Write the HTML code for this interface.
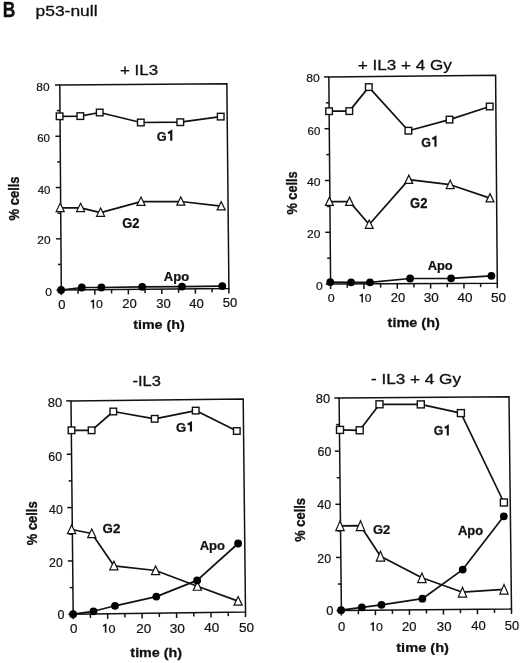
<!DOCTYPE html>
<html><head><meta charset="utf-8"><style>
html,body{margin:0;padding:0;background:#fff;}
svg{display:block;will-change:transform;}
text{font-family:"Liberation Sans",sans-serif;fill:#111;stroke:#111;stroke-linejoin:round;}
</style></head><body>
<svg width="520" height="663" viewBox="0 0 520 663">
<rect width="520" height="663" fill="#fff"/>
<g stroke="#111" fill="none" stroke-linecap="butt">
<polygon points="59.80,85.00 226.85,83.70 228.90,288.40 61.30,290.10" fill="none" stroke-width="1.5"/>
<line x1="56.50" y1="290.10" x2="61.30" y2="290.10" stroke-width="1.5"/>
<line x1="57.91" y1="264.46" x2="61.11" y2="264.46" stroke-width="1.5"/>
<line x1="56.12" y1="238.83" x2="60.92" y2="238.83" stroke-width="1.5"/>
<line x1="57.54" y1="213.19" x2="60.74" y2="213.19" stroke-width="1.5"/>
<line x1="55.75" y1="187.55" x2="60.55" y2="187.55" stroke-width="1.5"/>
<line x1="57.16" y1="161.91" x2="60.36" y2="161.91" stroke-width="1.5"/>
<line x1="55.38" y1="136.28" x2="60.17" y2="136.28" stroke-width="1.5"/>
<line x1="56.79" y1="110.64" x2="59.99" y2="110.64" stroke-width="1.5"/>
<line x1="55.00" y1="85.00" x2="59.80" y2="85.00" stroke-width="1.5"/>
<line x1="61.30" y1="290.10" x2="61.30" y2="295.10" stroke-width="1.5"/>
<line x1="78.06" y1="289.93" x2="78.06" y2="293.73" stroke-width="1.5"/>
<line x1="94.82" y1="289.76" x2="94.82" y2="294.76" stroke-width="1.5"/>
<line x1="111.58" y1="289.59" x2="111.58" y2="293.39" stroke-width="1.5"/>
<line x1="128.34" y1="289.42" x2="128.34" y2="294.42" stroke-width="1.5"/>
<line x1="145.10" y1="289.25" x2="145.10" y2="293.05" stroke-width="1.5"/>
<line x1="161.86" y1="289.08" x2="161.86" y2="294.08" stroke-width="1.5"/>
<line x1="178.62" y1="288.91" x2="178.62" y2="292.71" stroke-width="1.5"/>
<line x1="195.38" y1="288.74" x2="195.38" y2="293.74" stroke-width="1.5"/>
<line x1="212.14" y1="288.57" x2="212.14" y2="292.37" stroke-width="1.5"/>
<line x1="228.90" y1="288.40" x2="228.90" y2="293.40" stroke-width="1.5"/>
<polygon points="328.85,76.90 495.60,75.30 497.30,283.20 330.60,284.10" fill="none" stroke-width="1.5"/>
<line x1="325.80" y1="284.10" x2="330.60" y2="284.10" stroke-width="1.5"/>
<line x1="327.18" y1="258.20" x2="330.38" y2="258.20" stroke-width="1.5"/>
<line x1="325.36" y1="232.30" x2="330.16" y2="232.30" stroke-width="1.5"/>
<line x1="326.74" y1="206.40" x2="329.94" y2="206.40" stroke-width="1.5"/>
<line x1="324.93" y1="180.50" x2="329.73" y2="180.50" stroke-width="1.5"/>
<line x1="326.31" y1="154.60" x2="329.51" y2="154.60" stroke-width="1.5"/>
<line x1="324.49" y1="128.70" x2="329.29" y2="128.70" stroke-width="1.5"/>
<line x1="325.87" y1="102.80" x2="329.07" y2="102.80" stroke-width="1.5"/>
<line x1="324.05" y1="76.90" x2="328.85" y2="76.90" stroke-width="1.5"/>
<line x1="330.60" y1="284.10" x2="330.60" y2="289.10" stroke-width="1.5"/>
<line x1="347.27" y1="284.01" x2="347.27" y2="287.81" stroke-width="1.5"/>
<line x1="363.94" y1="283.92" x2="363.94" y2="288.92" stroke-width="1.5"/>
<line x1="380.61" y1="283.83" x2="380.61" y2="287.63" stroke-width="1.5"/>
<line x1="397.28" y1="283.74" x2="397.28" y2="288.74" stroke-width="1.5"/>
<line x1="413.95" y1="283.65" x2="413.95" y2="287.45" stroke-width="1.5"/>
<line x1="430.62" y1="283.56" x2="430.62" y2="288.56" stroke-width="1.5"/>
<line x1="447.29" y1="283.47" x2="447.29" y2="287.27" stroke-width="1.5"/>
<line x1="463.96" y1="283.38" x2="463.96" y2="288.38" stroke-width="1.5"/>
<line x1="480.63" y1="283.29" x2="480.63" y2="287.09" stroke-width="1.5"/>
<line x1="497.30" y1="283.20" x2="497.30" y2="288.20" stroke-width="1.5"/>
<polygon points="71.00,400.90 243.20,399.10 245.50,612.10 73.20,614.30" fill="none" stroke-width="1.5"/>
<line x1="68.40" y1="614.30" x2="73.20" y2="614.30" stroke-width="1.5"/>
<line x1="69.72" y1="587.62" x2="72.92" y2="587.62" stroke-width="1.5"/>
<line x1="67.85" y1="560.95" x2="72.65" y2="560.95" stroke-width="1.5"/>
<line x1="69.17" y1="534.27" x2="72.38" y2="534.27" stroke-width="1.5"/>
<line x1="67.30" y1="507.60" x2="72.10" y2="507.60" stroke-width="1.5"/>
<line x1="68.62" y1="480.92" x2="71.83" y2="480.92" stroke-width="1.5"/>
<line x1="66.75" y1="454.25" x2="71.55" y2="454.25" stroke-width="1.5"/>
<line x1="68.08" y1="427.57" x2="71.28" y2="427.57" stroke-width="1.5"/>
<line x1="66.20" y1="400.90" x2="71.00" y2="400.90" stroke-width="1.5"/>
<line x1="73.20" y1="614.30" x2="73.20" y2="619.30" stroke-width="1.5"/>
<line x1="90.43" y1="614.08" x2="90.43" y2="617.88" stroke-width="1.5"/>
<line x1="107.66" y1="613.86" x2="107.66" y2="618.86" stroke-width="1.5"/>
<line x1="124.89" y1="613.64" x2="124.89" y2="617.44" stroke-width="1.5"/>
<line x1="142.12" y1="613.42" x2="142.12" y2="618.42" stroke-width="1.5"/>
<line x1="159.35" y1="613.20" x2="159.35" y2="617.00" stroke-width="1.5"/>
<line x1="176.58" y1="612.98" x2="176.58" y2="617.98" stroke-width="1.5"/>
<line x1="193.81" y1="612.76" x2="193.81" y2="616.56" stroke-width="1.5"/>
<line x1="211.04" y1="612.54" x2="211.04" y2="617.54" stroke-width="1.5"/>
<line x1="228.27" y1="612.32" x2="228.27" y2="616.12" stroke-width="1.5"/>
<line x1="245.50" y1="612.10" x2="245.50" y2="617.10" stroke-width="1.5"/>
<polygon points="339.10,398.00 509.00,396.70 511.50,608.90 341.40,610.60" fill="none" stroke-width="1.5"/>
<line x1="336.60" y1="610.60" x2="341.40" y2="610.60" stroke-width="1.5"/>
<line x1="337.91" y1="584.02" x2="341.11" y2="584.02" stroke-width="1.5"/>
<line x1="336.02" y1="557.45" x2="340.82" y2="557.45" stroke-width="1.5"/>
<line x1="337.34" y1="530.88" x2="340.54" y2="530.88" stroke-width="1.5"/>
<line x1="335.45" y1="504.30" x2="340.25" y2="504.30" stroke-width="1.5"/>
<line x1="336.76" y1="477.73" x2="339.96" y2="477.73" stroke-width="1.5"/>
<line x1="334.88" y1="451.15" x2="339.68" y2="451.15" stroke-width="1.5"/>
<line x1="336.19" y1="424.57" x2="339.39" y2="424.57" stroke-width="1.5"/>
<line x1="334.30" y1="398.00" x2="339.10" y2="398.00" stroke-width="1.5"/>
<line x1="341.40" y1="610.60" x2="341.40" y2="615.60" stroke-width="1.5"/>
<line x1="358.41" y1="610.43" x2="358.41" y2="614.23" stroke-width="1.5"/>
<line x1="375.42" y1="610.26" x2="375.42" y2="615.26" stroke-width="1.5"/>
<line x1="392.43" y1="610.09" x2="392.43" y2="613.89" stroke-width="1.5"/>
<line x1="409.44" y1="609.92" x2="409.44" y2="614.92" stroke-width="1.5"/>
<line x1="426.45" y1="609.75" x2="426.45" y2="613.55" stroke-width="1.5"/>
<line x1="443.46" y1="609.58" x2="443.46" y2="614.58" stroke-width="1.5"/>
<line x1="460.47" y1="609.41" x2="460.47" y2="613.21" stroke-width="1.5"/>
<line x1="477.48" y1="609.24" x2="477.48" y2="614.24" stroke-width="1.5"/>
<line x1="494.49" y1="609.07" x2="494.49" y2="612.87" stroke-width="1.5"/>
<line x1="511.50" y1="608.90" x2="511.50" y2="613.90" stroke-width="1.5"/>
<path d="M59.60,116.30 L80.30,116.10 L99.70,112.50 L140.80,122.50 L180.30,122.20 L220.70,116.60" fill="none" stroke-width="1.7" stroke-linejoin="round"/>
<path d="M60.20,207.90 L80.60,207.90 L100.60,212.60 L141.00,201.60 L180.80,201.50 L221.20,206.20" fill="none" stroke-width="1.7" stroke-linejoin="round"/>
<path d="M61.10,290.00 L81.80,287.50 L101.40,287.50 L142.20,286.80 L182.00,286.60 L222.30,286.10" fill="none" stroke-width="1.7" stroke-linejoin="round"/>
<path d="M329.10,111.20 L349.30,111.10 L368.80,87.10 L408.40,130.70 L449.50,119.60 L489.70,106.50" fill="none" stroke-width="1.7" stroke-linejoin="round"/>
<path d="M329.40,201.60 L349.50,201.60 L369.20,224.50 L408.80,179.60 L450.20,184.70 L490.00,198.10" fill="none" stroke-width="1.7" stroke-linejoin="round"/>
<path d="M330.30,282.10 L351.10,282.30 L370.00,282.30 L410.10,278.50 L451.10,278.30 L491.40,275.80" fill="none" stroke-width="1.7" stroke-linejoin="round"/>
<path d="M71.50,430.30 L91.60,430.30 L113.30,411.50 L154.70,418.80 L195.70,410.60 L236.80,431.00" fill="none" stroke-width="1.7" stroke-linejoin="round"/>
<path d="M71.60,529.50 L91.80,533.50 L113.90,565.80 L155.60,570.50 L197.40,586.20 L238.10,601.10" fill="none" stroke-width="1.7" stroke-linejoin="round"/>
<path d="M73.10,614.20 L93.50,611.30 L115.00,605.80 L156.30,596.60 L197.10,580.40 L238.10,543.50" fill="none" stroke-width="1.7" stroke-linejoin="round"/>
<path d="M340.00,429.90 L359.70,430.30 L379.50,404.30 L420.80,404.40 L460.90,413.10 L503.90,502.50" fill="none" stroke-width="1.7" stroke-linejoin="round"/>
<path d="M340.00,525.80 L360.50,525.70 L380.50,556.20 L421.90,577.80 L462.50,592.20 L504.00,589.30" fill="none" stroke-width="1.7" stroke-linejoin="round"/>
<path d="M341.10,610.20 L361.80,607.30 L381.50,604.80 L422.40,598.70 L462.70,569.60 L503.80,516.30" fill="none" stroke-width="1.7" stroke-linejoin="round"/>
</g>
<g stroke="#111">
<rect x="56.30" y="113.00" width="6.6" height="6.6" fill="#fff" stroke-width="1.4"/>
<rect x="77.00" y="112.80" width="6.6" height="6.6" fill="#fff" stroke-width="1.4"/>
<rect x="96.40" y="109.20" width="6.6" height="6.6" fill="#fff" stroke-width="1.4"/>
<rect x="137.50" y="119.20" width="6.6" height="6.6" fill="#fff" stroke-width="1.4"/>
<rect x="177.00" y="118.90" width="6.6" height="6.6" fill="#fff" stroke-width="1.4"/>
<rect x="217.40" y="113.30" width="6.6" height="6.6" fill="#fff" stroke-width="1.4"/>
<polygon points="60.20,203.35 64.24,211.58 56.16,211.58" fill="#fff" stroke-width="1.2" stroke-linejoin="miter" stroke-miterlimit="10"/>
<polygon points="80.60,203.35 84.64,211.58 76.56,211.58" fill="#fff" stroke-width="1.2" stroke-linejoin="miter" stroke-miterlimit="10"/>
<polygon points="100.60,208.05 104.64,216.28 96.56,216.28" fill="#fff" stroke-width="1.2" stroke-linejoin="miter" stroke-miterlimit="10"/>
<polygon points="141.00,197.05 145.04,205.28 136.96,205.28" fill="#fff" stroke-width="1.2" stroke-linejoin="miter" stroke-miterlimit="10"/>
<polygon points="180.80,196.95 184.84,205.18 176.76,205.18" fill="#fff" stroke-width="1.2" stroke-linejoin="miter" stroke-miterlimit="10"/>
<polygon points="221.20,201.65 225.24,209.88 217.16,209.88" fill="#fff" stroke-width="1.2" stroke-linejoin="miter" stroke-miterlimit="10"/>
<circle cx="61.10" cy="290.00" r="3.9" fill="#000" stroke="none"/>
<circle cx="81.80" cy="287.50" r="3.9" fill="#000" stroke="none"/>
<circle cx="101.40" cy="287.50" r="3.9" fill="#000" stroke="none"/>
<circle cx="142.20" cy="286.80" r="3.9" fill="#000" stroke="none"/>
<circle cx="182.00" cy="286.60" r="3.9" fill="#000" stroke="none"/>
<circle cx="222.30" cy="286.10" r="3.9" fill="#000" stroke="none"/>
<rect x="325.80" y="107.90" width="6.6" height="6.6" fill="#fff" stroke-width="1.4"/>
<rect x="346.00" y="107.80" width="6.6" height="6.6" fill="#fff" stroke-width="1.4"/>
<rect x="365.50" y="83.80" width="6.6" height="6.6" fill="#fff" stroke-width="1.4"/>
<rect x="405.10" y="127.40" width="6.6" height="6.6" fill="#fff" stroke-width="1.4"/>
<rect x="446.20" y="116.30" width="6.6" height="6.6" fill="#fff" stroke-width="1.4"/>
<rect x="486.40" y="103.20" width="6.6" height="6.6" fill="#fff" stroke-width="1.4"/>
<polygon points="329.40,197.13 333.35,205.43 325.45,205.43" fill="#fff" stroke-width="1.2" stroke-linejoin="miter" stroke-miterlimit="10"/>
<polygon points="349.50,197.13 353.45,205.43 345.55,205.43" fill="#fff" stroke-width="1.2" stroke-linejoin="miter" stroke-miterlimit="10"/>
<polygon points="369.20,220.03 373.15,228.33 365.25,228.33" fill="#fff" stroke-width="1.2" stroke-linejoin="miter" stroke-miterlimit="10"/>
<polygon points="408.80,175.13 412.75,183.43 404.85,183.43" fill="#fff" stroke-width="1.2" stroke-linejoin="miter" stroke-miterlimit="10"/>
<polygon points="450.20,180.23 454.15,188.53 446.25,188.53" fill="#fff" stroke-width="1.2" stroke-linejoin="miter" stroke-miterlimit="10"/>
<polygon points="490.00,193.63 493.95,201.93 486.05,201.93" fill="#fff" stroke-width="1.2" stroke-linejoin="miter" stroke-miterlimit="10"/>
<circle cx="330.30" cy="282.10" r="3.9" fill="#000" stroke="none"/>
<circle cx="351.10" cy="282.30" r="3.9" fill="#000" stroke="none"/>
<circle cx="370.00" cy="282.30" r="3.9" fill="#000" stroke="none"/>
<circle cx="410.10" cy="278.50" r="3.9" fill="#000" stroke="none"/>
<circle cx="451.10" cy="278.30" r="3.9" fill="#000" stroke="none"/>
<circle cx="491.40" cy="275.80" r="3.9" fill="#000" stroke="none"/>
<rect x="68.20" y="427.00" width="6.6" height="6.6" fill="#fff" stroke-width="1.4"/>
<rect x="88.30" y="427.00" width="6.6" height="6.6" fill="#fff" stroke-width="1.4"/>
<rect x="110.00" y="408.20" width="6.6" height="6.6" fill="#fff" stroke-width="1.4"/>
<rect x="151.40" y="415.50" width="6.6" height="6.6" fill="#fff" stroke-width="1.4"/>
<rect x="192.40" y="407.30" width="6.6" height="6.6" fill="#fff" stroke-width="1.4"/>
<rect x="233.50" y="427.70" width="6.6" height="6.6" fill="#fff" stroke-width="1.4"/>
<polygon points="71.60,524.96 75.70,533.56 67.50,533.56" fill="#fff" stroke-width="1.2" stroke-linejoin="miter" stroke-miterlimit="10"/>
<polygon points="91.80,528.96 95.90,537.56 87.70,537.56" fill="#fff" stroke-width="1.2" stroke-linejoin="miter" stroke-miterlimit="10"/>
<polygon points="113.90,561.26 118.00,569.86 109.80,569.86" fill="#fff" stroke-width="1.2" stroke-linejoin="miter" stroke-miterlimit="10"/>
<polygon points="155.60,565.96 159.70,574.56 151.50,574.56" fill="#fff" stroke-width="1.2" stroke-linejoin="miter" stroke-miterlimit="10"/>
<polygon points="197.40,581.66 201.50,590.26 193.30,590.26" fill="#fff" stroke-width="1.2" stroke-linejoin="miter" stroke-miterlimit="10"/>
<polygon points="238.10,596.56 242.20,605.16 234.00,605.16" fill="#fff" stroke-width="1.2" stroke-linejoin="miter" stroke-miterlimit="10"/>
<circle cx="73.10" cy="614.20" r="3.9" fill="#000" stroke="none"/>
<circle cx="93.50" cy="611.30" r="3.9" fill="#000" stroke="none"/>
<circle cx="115.00" cy="605.80" r="3.9" fill="#000" stroke="none"/>
<circle cx="156.30" cy="596.60" r="3.9" fill="#000" stroke="none"/>
<circle cx="197.10" cy="580.40" r="3.9" fill="#000" stroke="none"/>
<circle cx="238.10" cy="543.50" r="3.9" fill="#000" stroke="none"/>
<rect x="336.50" y="426.40" width="7.0" height="7.0" fill="#fff" stroke-width="1.4"/>
<rect x="356.20" y="426.80" width="7.0" height="7.0" fill="#fff" stroke-width="1.4"/>
<rect x="376.00" y="400.80" width="7.0" height="7.0" fill="#fff" stroke-width="1.4"/>
<rect x="417.30" y="400.90" width="7.0" height="7.0" fill="#fff" stroke-width="1.4"/>
<rect x="457.40" y="409.60" width="7.0" height="7.0" fill="#fff" stroke-width="1.4"/>
<rect x="500.40" y="499.00" width="7.0" height="7.0" fill="#fff" stroke-width="1.4"/>
<polygon points="340.00,520.94 344.19,530.63 335.81,530.63" fill="#fff" stroke-width="1.2" stroke-linejoin="miter" stroke-miterlimit="10"/>
<polygon points="360.50,520.84 364.69,530.53 356.31,530.53" fill="#fff" stroke-width="1.2" stroke-linejoin="miter" stroke-miterlimit="10"/>
<polygon points="380.50,551.34 384.69,561.03 376.31,561.03" fill="#fff" stroke-width="1.2" stroke-linejoin="miter" stroke-miterlimit="10"/>
<polygon points="421.90,572.94 426.09,582.63 417.71,582.63" fill="#fff" stroke-width="1.2" stroke-linejoin="miter" stroke-miterlimit="10"/>
<polygon points="462.50,587.34 466.69,597.03 458.31,597.03" fill="#fff" stroke-width="1.2" stroke-linejoin="miter" stroke-miterlimit="10"/>
<polygon points="504.00,584.44 508.19,594.13 499.81,594.13" fill="#fff" stroke-width="1.2" stroke-linejoin="miter" stroke-miterlimit="10"/>
<circle cx="341.10" cy="610.20" r="3.9" fill="#000" stroke="none"/>
<circle cx="361.80" cy="607.30" r="3.9" fill="#000" stroke="none"/>
<circle cx="381.50" cy="604.80" r="3.9" fill="#000" stroke="none"/>
<circle cx="422.40" cy="598.70" r="3.9" fill="#000" stroke="none"/>
<circle cx="462.70" cy="569.60" r="3.9" fill="#000" stroke="none"/>
<circle cx="503.80" cy="516.30" r="3.9" fill="#000" stroke="none"/>
</g>
<g>
<g transform="translate(2.76,16.90) scale(0.807,1)"><text style="font-size:21.74px;font-weight:bold;stroke-width:0.30px">B</text></g>
<g transform="translate(35.57,16.33) scale(1.156,1)"><text style="font-size:15.08px;stroke-width:0.30px">p53-null</text></g>
<g transform="translate(119.95,74.85) scale(1.134,1)"><text style="font-size:14.93px;stroke-width:0.30px">+ IL3</text></g>
<g transform="translate(357.64,69.97) scale(1.115,1)"><text style="font-size:15.38px;stroke-width:0.30px">+ IL3 + 4 Gy</text></g>
<g transform="translate(132.46,386.45) scale(1.065,1)"><text style="font-size:15.49px;stroke-width:0.30px">-IL3</text></g>
<g transform="translate(370.93,384.20) scale(1.202,1)"><text style="font-size:14.29px;stroke-width:0.30px">- IL3 + 4 Gy</text></g>
<g transform="translate(156.79,140.86) scale(0.932,1)"><text style="font-size:13.64px;font-weight:bold;stroke-width:0.25px">G<tspan style="fill:none;stroke:none">1</tspan></text><path d="M12.11,-7.64 L15.52,-9.55 L15.52,0" fill="none" stroke="#111" stroke-width="2.30" stroke-linejoin="miter"/></g>
<g transform="translate(122.28,228.35) scale(0.878,1)"><text style="font-size:14.79px;font-weight:bold;stroke-width:0.25px">G2</text></g>
<g transform="translate(163.87,281.02) scale(0.990,1)"><text style="font-size:13.22px;font-weight:bold;stroke-width:0.25px">Apo</text></g>
<g transform="translate(421.20,146.66) scale(0.928,1)"><text style="font-size:13.51px;font-weight:bold;stroke-width:0.25px">G<tspan style="fill:none;stroke:none">1</tspan></text><path d="M11.99,-7.56 L15.37,-9.45 L15.37,0" fill="none" stroke="#111" stroke-width="2.28" stroke-linejoin="miter"/></g>
<g transform="translate(410.08,207.56) scale(0.922,1)"><text style="font-size:14.08px;font-weight:bold;stroke-width:0.25px">G2</text></g>
<g transform="translate(427.68,270.22) scale(1.007,1)"><text style="font-size:12.78px;font-weight:bold;stroke-width:0.25px">Apo</text></g>
<g transform="translate(175.97,431.58) scale(1.053,1)"><text style="font-size:12.47px;font-weight:bold;stroke-width:0.25px">G<tspan style="fill:none;stroke:none">1</tspan></text><path d="M11.07,-6.98 L14.19,-8.73 L14.19,0" fill="none" stroke="#111" stroke-width="2.12" stroke-linejoin="miter"/></g>
<g transform="translate(102.57,533.17) scale(1.038,1)"><text style="font-size:12.82px;font-weight:bold;stroke-width:0.25px">G2</text></g>
<g transform="translate(199.67,550.25) scale(0.998,1)"><text style="font-size:13.11px;font-weight:bold;stroke-width:0.25px">Apo</text></g>
<g transform="translate(433.81,435.47) scale(0.918,1)"><text style="font-size:13.38px;font-weight:bold;stroke-width:0.25px">G<tspan style="fill:none;stroke:none">1</tspan></text><path d="M11.88,-7.49 L15.22,-9.36 L15.22,0" fill="none" stroke="#111" stroke-width="2.26" stroke-linejoin="miter"/></g>
<g transform="translate(372.88,533.57) scale(1.013,1)"><text style="font-size:12.82px;font-weight:bold;stroke-width:0.25px">G2</text></g>
<g transform="translate(457.98,534.93) scale(1.062,1)"><text style="font-size:12.22px;font-weight:bold;stroke-width:0.25px">Apo</text></g>
<g transform="translate(133.16,328.78) scale(1.106,1)"><text style="font-size:12.94px;font-weight:bold;stroke-width:0.25px">time (h)</text></g>
<g transform="translate(387.56,327.13) scale(1.058,1)"><text style="font-size:13.69px;font-weight:bold;stroke-width:0.25px">time (h)</text></g>
<g transform="translate(130.36,657.42) scale(1.166,1)"><text style="font-size:12.30px;font-weight:bold;stroke-width:0.25px">time (h)</text></g>
<g transform="translate(396.25,651.77) scale(1.083,1)"><text style="font-size:13.48px;font-weight:bold;stroke-width:0.25px">time (h)</text></g>
<text transform="translate(19.36,220.42) rotate(-90) scale(0.909,1)" style="font-size:14.29px;font-weight:bold;stroke-width:0.35px">% cells</text>
<text transform="translate(297.26,214.62) rotate(-90) scale(0.895,1)" style="font-size:14.29px;font-weight:bold;stroke-width:0.35px">% cells</text>
<text transform="translate(37.05,545.22) rotate(-90) scale(0.858,1)" style="font-size:15.10px;font-weight:bold;stroke-width:0.35px">% cells</text>
<text transform="translate(305.16,541.72) rotate(-90) scale(0.895,1)" style="font-size:14.42px;font-weight:bold;stroke-width:0.35px">% cells</text>
<g transform="translate(36.37,91.28) scale(1.030,1)"><text style="font-size:11.55px;stroke-width:0.20px">80</text></g>
<g transform="translate(37.24,141.89) scale(1.030,1)"><text style="font-size:11.13px;stroke-width:0.20px">60</text></g>
<g transform="translate(37.74,193.59) scale(1.030,1)"><text style="font-size:11.13px;stroke-width:0.20px">40</text></g>
<g transform="translate(37.27,244.48) scale(1.030,1)"><text style="font-size:11.55px;stroke-width:0.20px">20</text></g>
<g transform="translate(45.32,295.68) scale(1.030,1)"><text style="font-size:11.83px;stroke-width:0.20px">0</text></g>
<g transform="translate(306.26,82.38) scale(1.030,1)"><text style="font-size:11.83px;stroke-width:0.20px">80</text></g>
<g transform="translate(307.54,134.69) scale(1.030,1)"><text style="font-size:11.13px;stroke-width:0.20px">60</text></g>
<g transform="translate(306.96,186.08) scale(1.030,1)"><text style="font-size:11.83px;stroke-width:0.20px">40</text></g>
<g transform="translate(307.12,237.68) scale(1.030,1)"><text style="font-size:11.69px;stroke-width:0.20px">20</text></g>
<g transform="translate(315.92,290.08) scale(1.030,1)"><text style="font-size:11.83px;stroke-width:0.20px">0</text></g>
<g transform="translate(47.78,406.77) scale(1.030,1)"><text style="font-size:12.54px;stroke-width:0.20px">80</text></g>
<g transform="translate(48.31,460.88) scale(1.030,1)"><text style="font-size:11.97px;stroke-width:0.20px">60</text></g>
<g transform="translate(49.11,513.88) scale(1.030,1)"><text style="font-size:11.97px;stroke-width:0.20px">40</text></g>
<g transform="translate(49.11,566.88) scale(1.030,1)"><text style="font-size:11.97px;stroke-width:0.20px">20</text></g>
<g transform="translate(57.47,619.48) scale(1.030,1)"><text style="font-size:12.11px;stroke-width:0.20px">0</text></g>
<g transform="translate(315.78,402.77) scale(1.030,1)"><text style="font-size:12.54px;stroke-width:0.20px">80</text></g>
<g transform="translate(317.61,455.88) scale(1.030,1)"><text style="font-size:11.97px;stroke-width:0.20px">60</text></g>
<g transform="translate(317.31,509.38) scale(1.030,1)"><text style="font-size:11.97px;stroke-width:0.20px">40</text></g>
<g transform="translate(317.31,563.18) scale(1.030,1)"><text style="font-size:11.97px;stroke-width:0.20px">20</text></g>
<g transform="translate(326.15,614.77) scale(1.030,1)"><text style="font-size:12.54px;stroke-width:0.20px">0</text></g>
<g transform="translate(58.17,308.68) scale(1.080,1)"><text style="font-size:12.11px;stroke-width:0.20px">0</text></g>
<g transform="translate(89.24,308.49) scale(1.080,1)"><text style="font-size:11.44px;stroke-width:0.20px"><tspan style="fill:none;stroke:none">1</tspan>0</text><path d="M1.49,-6.58 L3.83,-8.01 L3.83,0" fill="none" stroke="#111" stroke-width="1.40" stroke-linejoin="miter"/></g>
<g transform="translate(122.27,308.28) scale(1.080,1)"><text style="font-size:12.11px;stroke-width:0.20px">20</text></g>
<g transform="translate(156.24,307.88) scale(1.080,1)"><text style="font-size:12.11px;stroke-width:0.20px">30</text></g>
<g transform="translate(189.34,307.68) scale(1.080,1)"><text style="font-size:12.11px;stroke-width:0.20px">40</text></g>
<g transform="translate(222.74,307.38) scale(1.080,1)"><text style="font-size:12.11px;stroke-width:0.20px">50</text></g>
<g transform="translate(327.74,302.48) scale(1.080,1)"><text style="font-size:11.55px;stroke-width:0.20px">0</text></g>
<g transform="translate(358.11,302.39) scale(1.080,1)"><text style="font-size:11.17px;stroke-width:0.20px"><tspan style="fill:none;stroke:none">1</tspan>0</text><path d="M1.45,-6.42 L3.74,-7.82 L3.74,0" fill="none" stroke="#111" stroke-width="1.37" stroke-linejoin="miter"/></g>
<g transform="translate(390.77,302.28) scale(1.080,1)"><text style="font-size:12.11px;stroke-width:0.20px">20</text></g>
<g transform="translate(423.69,302.17) scale(1.080,1)"><text style="font-size:12.54px;stroke-width:0.20px">30</text></g>
<g transform="translate(457.39,301.97) scale(1.080,1)"><text style="font-size:12.54px;stroke-width:0.20px">40</text></g>
<g transform="translate(490.89,301.77) scale(1.080,1)"><text style="font-size:12.54px;stroke-width:0.20px">50</text></g>
<g transform="translate(69.99,632.88) scale(1.080,1)"><text style="font-size:12.39px;stroke-width:0.20px">0</text></g>
<g transform="translate(101.38,632.78) scale(1.080,1)"><text style="font-size:11.70px;stroke-width:0.20px"><tspan style="fill:none;stroke:none">1</tspan>0</text><path d="M1.52,-6.73 L3.92,-8.19 L3.92,0" fill="none" stroke="#111" stroke-width="1.43" stroke-linejoin="miter"/></g>
<g transform="translate(136.20,632.58) scale(1.080,1)"><text style="font-size:12.39px;stroke-width:0.20px">20</text></g>
<g transform="translate(169.70,632.57) scale(1.080,1)"><text style="font-size:12.68px;stroke-width:0.20px">30</text></g>
<g transform="translate(204.29,632.17) scale(1.080,1)"><text style="font-size:12.54px;stroke-width:0.20px">40</text></g>
<g transform="translate(238.89,631.87) scale(1.080,1)"><text style="font-size:12.54px;stroke-width:0.20px">50</text></g>
<g transform="translate(338.07,631.18) scale(1.080,1)"><text style="font-size:12.11px;stroke-width:0.20px">0</text></g>
<g transform="translate(369.04,631.09) scale(1.080,1)"><text style="font-size:11.44px;stroke-width:0.20px"><tspan style="fill:none;stroke:none">1</tspan>0</text><path d="M1.49,-6.58 L3.83,-8.01 L3.83,0" fill="none" stroke="#111" stroke-width="1.40" stroke-linejoin="miter"/></g>
<g transform="translate(401.96,630.88) scale(1.080,1)"><text style="font-size:11.97px;stroke-width:0.20px">20</text></g>
<g transform="translate(436.86,630.58) scale(1.080,1)"><text style="font-size:12.25px;stroke-width:0.20px">30</text></g>
<g transform="translate(471.14,630.38) scale(1.080,1)"><text style="font-size:12.11px;stroke-width:0.20px">40</text></g>
<g transform="translate(504.82,630.18) scale(1.080,1)"><text style="font-size:11.97px;stroke-width:0.20px">50</text></g>
</g>
</svg>
</body></html>
